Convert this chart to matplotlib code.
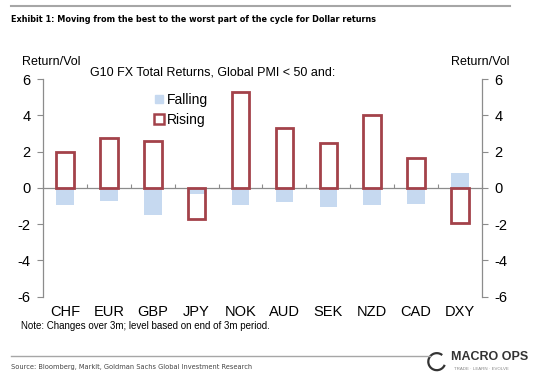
import matplotlib.pyplot as plt
import numpy as np
from matplotlib.lines import Line2D
from matplotlib.patches import Arc

plt.rcParams['font.family'] = ['Liberation Sans', 'DejaVu Sans']
plt.rcParams['axes.unicode_minus'] = False

currencies = ["CHF", "EUR", "GBP", "JPY", "NOK", "AUD", "SEK", "NZD", "CAD", "DXY"]
falling = [-0.93, -0.75, -1.5, -0.33, -0.93, -0.78, -1.08, -0.95, -0.9, 0.82]
rising = [1.95, 2.75, 2.6, -1.73, 5.3, 3.28, 2.45, 4.0, 1.64, -1.95]
yticks = [-6, -4, -2, 0, 2, 4, 6]

fig = plt.figure(figsize=(5.34, 3.74), dpi=100)
ax = fig.add_axes([0.0805, 0.2067, 0.822, 0.582])

x = np.arange(len(currencies))
grey = "#8c8c8c"

# Bars
ax.bar(x, falling, width=0.4, color="#c6d9f0", zorder=2, label="Falling")
ax.bar(x, rising, width=0.4, facecolor="none", edgecolor="#a3424a",
       linewidth=2, zorder=3, label="Rising")

ax.set_xlim(-0.5, len(currencies) - 0.5)
ax.set_ylim(-6, 6)

# Spines and ticks
ax.spines["top"].set_visible(False)
ax.spines["bottom"].set_position(("data", 0))
for s in ["left", "right", "bottom"]:
    ax.spines[s].set_color(grey)
    ax.spines[s].set_linewidth(0.9)
ax.set_xticks(np.arange(-0.5, len(currencies), 1))
ax.set_xticklabels([])
ax.tick_params(axis="x", length=3, color=grey, direction="in")

ax.set_yticks(yticks)
ax.tick_params(axis="y", length=4, color=grey, labelsize=10.5,
               left=True, right=True, labelleft=True, labelright=True, pad=5)

# Category labels at the bottom
sec = ax.secondary_xaxis("bottom")
sec.spines["bottom"].set_visible(False)
sec.set_xticks(x)
sec.set_xticklabels(currencies, fontsize=10.5)
sec.tick_params(length=0, pad=6)

# Texts
fig.text(0.041, 0.833, "Return/Vol", fontsize=9, va="center")
fig.text(0.955, 0.833, "Return/Vol", fontsize=9, va="center", ha="right")
fig.text(0.168, 0.805, "G10 FX Total Returns, Global PMI < 50 and:",
         fontsize=9, va="center")

# Legend
handles = [Line2D([], [], marker="s", linestyle="none", markersize=6,
                  markerfacecolor="#c6d9f0", markeredgecolor="#c6d9f0"),
           Line2D([], [], marker="s", linestyle="none", markersize=6.5,
                  markerfacecolor="white", markeredgecolor="#a3424a",
                  markeredgewidth=1.8)]
fig.legend(handles, ["Falling", "Rising"], loc="upper left",
           bbox_to_anchor=(0.277, 0.77), frameon=False, fontsize=10,
           handlelength=0.6, handletextpad=0.25, labelspacing=0.45,
           borderpad=0)

fig.text(0.039, 0.128, "Note: Changes over 3m; level based on end of 3m period.",
         fontsize=7, va="center")

# Header and footer
fig.add_artist(Line2D([0.021, 0.955], [0.984, 0.984], color="#a6a6a6",
                      linewidth=1.5))
fig.text(0.021, 0.948, "Exhibit 1: Moving from the best to the worst part of the cycle for Dollar returns",
         fontsize=6.5, fontweight="bold", va="center", fontstretch="condensed",
         family=["DejaVu Sans"])
fig.add_artist(Line2D([0.021, 0.805], [0.048, 0.048], color="#a6a6a6",
                      linewidth=1))
fig.text(0.021, 0.02, "Source: Bloomberg, Markit, Goldman Sachs Global Investment Research",
         fontsize=5.3, va="center", color="#444444", fontstretch="condensed",
         family=["DejaVu Sans"])
fig.add_artist(Arc((0.818, 0.033), 17 / 534, 17 / 374, theta1=60, theta2=330,
                   transform=fig.transFigure, edgecolor="#333333",
                   linewidth=1.6))
fig.text(0.845, 0.046, "MACRO OPS", fontsize=9, fontweight="bold",
         va="center", color="#333333")
fig.text(0.85, 0.013, "TRADE · LEARN · EVOLVE", fontsize=3.2,
         va="center", color="#888888")

fig.savefig("out.png", dpi=100)
